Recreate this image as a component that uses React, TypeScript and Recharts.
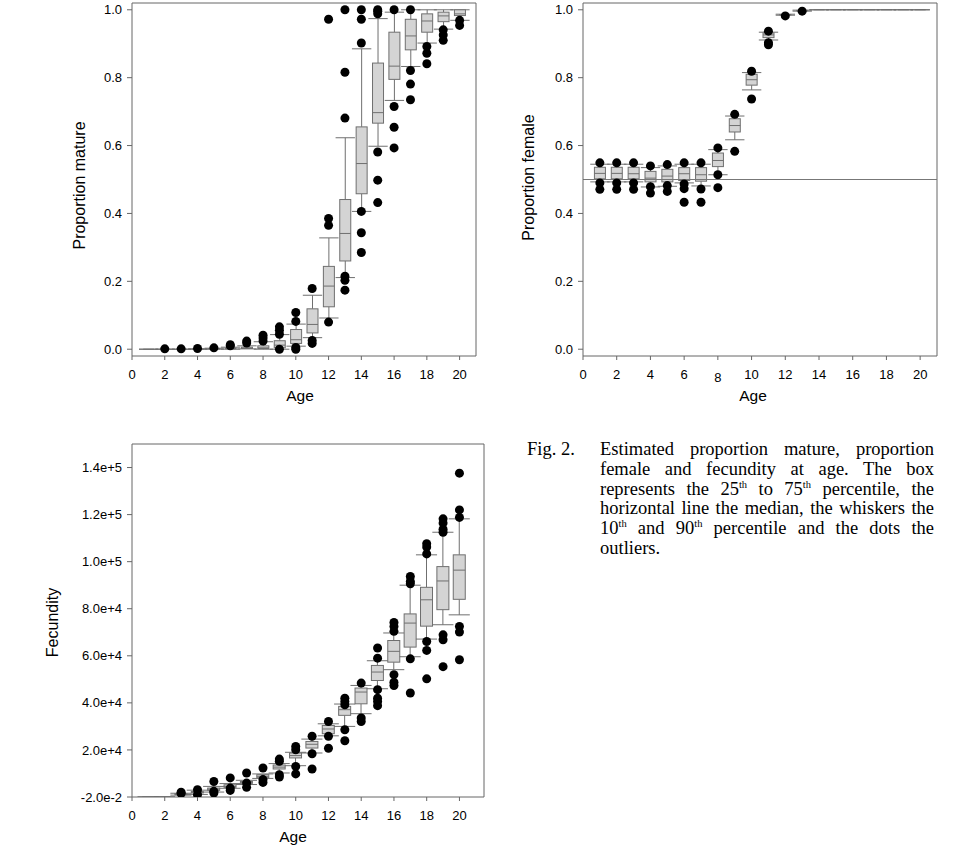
import React from 'react';
import { ComposedChart, Bar, Scatter, XAxis, YAxis, ReferenceLine } from 'recharts';

// ages 1..20 for every panel
const ages = [1, 2, 3, 4, 5, 6, 7, 8, 9, 10, 11, 12, 13, 14, 15, 16, 17, 18, 19, 20];
const ageTicks = [0, 2, 4, 6, 8, 10, 12, 14, 16, 18, 20];
const propTicks = [0, 0.2, 0.4, 0.6, 0.8, 1.0];
const fecTicks = [-0.02, 20000, 40000, 60000, 80000, 100000, 120000, 140000];

// proportion mature
const matureP10 = [0, 0, 0, 0, 0, 0, 0.001, 0.0, 0.0, 0.009, 0.034, 0.092, 0.211, 0.406, 0.598, 0.733, 0.833, 0.902, 0.943, 0.969];
const matureP25 = [0, 0, 0, 0, 0.001, 0.001, 0.002, 0.002, 0.004, 0.017, 0.048, 0.125, 0.26, 0.458, 0.666, 0.795, 0.882, 0.934, 0.965, 0.983];
const matureP50 = [0, 0, 0, 0, 0.001, 0.002, 0.003, 0.004, 0.012, 0.028, 0.073, 0.186, 0.341, 0.547, 0.697, 0.834, 0.923, 0.967, 0.982, 0.988];
const matureP75 = [0, 0, 0, 0.001, 0.002, 0.004, 0.006, 0.01, 0.025, 0.058, 0.119, 0.244, 0.441, 0.655, 0.843, 0.934, 0.972, 0.988, 0.993, 1.0];
const matureP90 = [0, 0, 0, 0.001, 0.003, 0.006, 0.01, 0.022, 0.043, 0.074, 0.159, 0.328, 0.623, 0.885, 0.974, 0.993, 1.0, 1.0, 1.0, 1.0];
const matureOutliers = [
  [], [0.001], [0.001], [0.002], [0.004], [0.01, 0.013], [0.018, 0.024], [0.024, 0.033, 0.041],
  [0.0, 0.044, 0.056, 0.066], [0.0, 0.005, 0.082, 0.108], [0.017, 0.026, 0.179],
  [0.08, 0.365, 0.385, 0.972], [0.174, 0.203, 0.215, 0.681, 0.816, 1.0],
  [0.285, 0.343, 0.406, 0.902, 0.972, 1.0], [0.432, 0.498, 0.581, 0.988, 0.996, 1.0],
  [0.593, 0.654, 0.715, 1.0], [0.735, 0.781, 0.821, 1.0], [0.841, 0.872, 0.892],
  [0.91, 0.926, 0.941], [0.954, 0.969],
];

// proportion female
const femaleP10 = [0.493, 0.493, 0.493, 0.478, 0.48, 0.49, 0.481, 0.514, 0.617, 0.764, 0.911, 0.984, 0.996, 1, 1, 1, 1, 1, 1, 1];
const femaleP25 = [0.502, 0.502, 0.502, 0.493, 0.493, 0.497, 0.495, 0.538, 0.64, 0.778, 0.918, 0.985, 0.997, 1, 1, 1, 1, 1, 1, 1];
const femaleP50 = [0.518, 0.518, 0.517, 0.504, 0.51, 0.517, 0.514, 0.556, 0.659, 0.794, 0.926, 0.986, 0.998, 1, 1, 1, 1, 1, 1, 1];
const femaleP75 = [0.536, 0.536, 0.536, 0.524, 0.53, 0.535, 0.535, 0.578, 0.679, 0.81, 0.932, 0.986, 0.998, 1, 1, 1, 1, 1, 1, 1];
const femaleP90 = [0.545, 0.545, 0.545, 0.535, 0.54, 0.545, 0.545, 0.588, 0.687, 0.815, 0.934, 0.987, 0.999, 1, 1, 1, 1, 1, 1, 1];
const femaleOutliers = [
  [0.471, 0.49, 0.549], [0.471, 0.49, 0.549], [0.471, 0.49, 0.549], [0.46, 0.479, 0.54],
  [0.465, 0.482, 0.544], [0.433, 0.473, 0.487, 0.549], [0.433, 0.472, 0.549], [0.476, 0.514, 0.593],
  [0.583, 0.692], [0.737, 0.819], [0.897, 0.903, 0.937], [0.982], [0.996],
  [], [], [], [], [], [], [],
];

// fecundity
const fecP10 = [0, 0, 800, 1100, 2100, 3700, 5300, 7900, 10200, 13300, 18700, 26000, 30000, 35400, 46000, 54100, 59600, 67100, 73200, 77400];
const fecP25 = [0, 0, 1000, 1700, 2800, 4100, 5800, 8200, 11900, 16600, 20800, 26900, 34700, 39600, 49500, 57300, 63700, 72600, 79600, 84000];
const fecP50 = [0, 0, 1200, 2000, 3300, 4500, 6100, 8800, 12700, 17600, 22400, 28900, 37100, 44600, 53100, 61900, 73900, 83800, 91800, 96400];
const fecP75 = [0, 0, 1400, 2300, 3800, 5200, 6600, 9500, 13600, 18700, 23600, 30400, 38500, 46300, 55900, 66500, 77800, 89100, 97900, 102900];
const fecP90 = [0, 0, 1600, 2900, 4500, 5700, 7100, 9800, 14200, 19000, 24600, 31100, 39500, 47400, 57900, 69700, 90000, 102900, 112500, 118200];
const fecOutliers = [
  [], [], [1500, 2000], [1000, 3100], [1700, 2400, 6600], [2800, 3800, 8100], [4100, 5900, 10200],
  [6200, 7400, 12300], [8500, 9500, 15200, 16100], [9800, 13000, 20100, 21500], [11900, 18400, 25800],
  [20700, 25800, 32100], [23900, 28600, 39200, 40600, 42000], [32100, 33600, 48400],
  [38800, 40600, 42000, 45600, 59000, 63300], [47400, 48800, 52000, 70400, 72500, 74200],
  [44200, 58700, 90600, 91600, 93700], [50200, 62300, 66100, 103300, 106200, 107600],
  [55400, 66800, 68900, 112500, 113800, 116400, 118200], [58300, 70100, 72500, 118800, 122000, 137600],
];

const AXIS = '#666';
const LINE = '#6f6f6f';
const BOX_FILL = '#d4d4d4';
const SANS = '"Liberation Sans", Arial, sans-serif';
const SERIF = '"Liberation Serif", "Times New Roman", serif';

const buildRows = (lo: number[], q1: number[], med: number[], q3: number[], hi: number[]) =>
  ages.map((age, i) => ({ age, lo: lo[i], q1: q1[i], med: med[i], q3: q3[i], hi: hi[i] }));

const buildDots = (outliers: number[][]) =>
  ages.flatMap((age, i) => outliers[i].map((value) => ({ age, value })));

// box + whiskers drawn inside the bar that spans 10th..90th percentile
const BoxShape = (props: any) => {
  const { x, y, width, height } = props;
  const d = props.payload ?? props;
  if (x == null || y == null) return null;
  const span = d.hi - d.lo;
  const py = (v: number) => (span > 0 ? y + (height * (d.hi - v)) / span : y);
  const cx = x + width / 2;
  const cap = width * 0.88;
  const yHi = py(d.hi);
  const yQ3 = py(d.q3);
  const yMed = py(d.med);
  const yQ1 = py(d.q1);
  const yLo = py(d.lo);
  return (
    <g>
      <line x1={cx} x2={cx} y1={yHi} y2={yQ3} stroke={LINE} />
      <line x1={cx} x2={cx} y1={yQ1} y2={yLo} stroke={LINE} />
      <line x1={cx - cap} x2={cx + cap} y1={yHi} y2={yHi} stroke={LINE} />
      <line x1={cx - cap} x2={cx + cap} y1={yLo} y2={yLo} stroke={LINE} />
      <rect x={x} y={yQ3} width={width} height={Math.max(yQ1 - yQ3, 0)} fill={BOX_FILL} stroke={LINE} />
      <line x1={x} x2={x + width} y1={yMed} y2={yMed} stroke={LINE} />
    </g>
  );
};

const Dot = (props: any) => {
  if (props.cx == null || props.cy == null) return null;
  return <circle cx={props.cx} cy={props.cy} r={4.5} fill="#000" />;
};

// the "8" on the female panel sits a little low in the original
const FemaleTick = (props: any) => {
  const { x, y, payload } = props;
  const shift = payload.value === 8 ? 3 : 0;
  return (
    <text x={x} y={y + shift} dy="0.71em" textAnchor="middle" fontSize={13} fill="#000">
      {payload.value}
    </text>
  );
};

interface PanelProps {
  rows: any[];
  dots: any[];
  xMax: number;
  yDomain: [number, number];
  yTicks: number[];
  yFormat: (v: number) => string;
  width: number;
  height: number;
  marginTop: number;
  xAxisHeight: number;
  barSize: number;
  left: number;
  top: number;
  refY?: number;
  xTick?: any;
}

function BoxPanel(p: PanelProps) {
  return (
    <div style={{ position: 'absolute', left: p.left, top: p.top }}>
      <ComposedChart
        width={p.width}
        height={p.height}
        data={p.rows}
        margin={{ top: p.marginTop, right: 14, bottom: 0, left: 0 }}
      >
        <XAxis
          dataKey="age"
          type="number"
          domain={[0, p.xMax]}
          ticks={ageTicks}
          interval={0}
          allowDataOverflow
          height={p.xAxisHeight}
          tickSize={4}
          tickMargin={10}
          stroke={AXIS}
          tick={p.xTick ?? { fill: '#000', fontSize: 13 }}
        />
        <YAxis
          type="number"
          domain={p.yDomain}
          ticks={p.yTicks}
          interval={0}
          allowDataOverflow
          width={132}
          tickSize={5}
          tickMargin={5}
          tickFormatter={p.yFormat}
          stroke={AXIS}
          tick={{ fill: '#000', fontSize: 13 }}
        />
        {/* frame: top and right edges */}
        <ReferenceLine y={p.yDomain[1]} stroke={AXIS} />
        <ReferenceLine x={p.xMax} stroke={AXIS} />
        {p.refY !== undefined && <ReferenceLine y={p.refY} stroke="#777" />}
        <Bar dataKey={(d: any) => [d.lo, d.hi]} barSize={p.barSize} shape={BoxShape} isAnimationActive={false} />
        <Scatter data={p.dots} dataKey="value" shape={Dot} isAnimationActive={false} />
      </ComposedChart>
    </div>
  );
}

const Th = () => <sup style={{ fontSize: 10.5, lineHeight: 0 }}>th</sup>;

const captionLine = (last: boolean): React.CSSProperties => ({
  textAlign: 'justify',
  textAlignLast: last ? 'left' : 'justify',
});

export default function App() {
  const fixed = (v: number) => v.toFixed(1);
  const expo = (v: number) => v.toExponential(1);
  const captionFont: React.CSSProperties = { fontFamily: SERIF, fontSize: 18.5, lineHeight: '19.8px', color: '#000' };
  return (
    <div style={{ position: 'absolute', left: 0, top: 0, width: 975, height: 860, background: '#fff', fontFamily: SANS }}>
      <BoxPanel
        rows={buildRows(matureP10, matureP25, matureP50, matureP75, matureP90)}
        dots={buildDots(matureOutliers)}
        xMax={21}
        yDomain={[-0.02, 1.02]}
        yTicks={propTicks}
        yFormat={fixed}
        width={490}
        height={410}
        marginTop={3}
        xAxisHeight={54}
        barSize={11}
        left={0}
        top={0}
      />
      <BoxPanel
        rows={buildRows(femaleP10, femaleP25, femaleP50, femaleP75, femaleP90)}
        dots={buildDots(femaleOutliers)}
        xMax={21}
        yDomain={[-0.02, 1.02]}
        yTicks={propTicks}
        yFormat={fixed}
        width={500}
        height={410}
        marginTop={3}
        xAxisHeight={54}
        barSize={11}
        left={451}
        top={0}
        refY={0.5}
        xTick={<FemaleTick />}
      />
      <BoxPanel
        rows={buildRows(fecP10, fecP25, fecP50, fecP75, fecP90)}
        dots={buildDots(fecOutliers)}
        xMax={21.5}
        yDomain={[-0.02, 150000]}
        yTicks={fecTicks}
        yFormat={expo}
        width={498}
        height={420}
        marginTop={14}
        xAxisHeight={53}
        barSize={12}
        left={0}
        top={430}
      />

      {/* axis titles */}
      <svg width={975} height={860} style={{ position: 'absolute', left: 0, top: 0, pointerEvents: 'none' }}>
        <text transform="translate(84.5,185.5) rotate(-90)" textAnchor="middle" fontSize={16} fill="#000">Proportion mature</text>
        <text x={300} y={401} textAnchor="middle" fontSize={15.5} fill="#000">Age</text>
        <text transform="translate(533.5,177.5) rotate(-90)" textAnchor="middle" fontSize={16} fill="#000">Proportion female</text>
        <text x={753} y={401} textAnchor="middle" fontSize={15.5} fill="#000">Age</text>
        <text transform="translate(58,622.5) rotate(-90)" textAnchor="middle" fontSize={16} fill="#000">Fecundity</text>
        <text x={293} y={842} textAnchor="middle" fontSize={15.5} fill="#000">Age</text>
      </svg>

      {/* caption */}
      <div style={{ position: 'absolute', left: 527, top: 440, ...captionFont }}>Fig. 2.</div>
      <div style={{ position: 'absolute', left: 600, top: 440, width: 334, ...captionFont }}>
        <div style={captionLine(false)}>Estimated proportion mature, proportion</div>
        <div style={captionLine(false)}>female and fecundity at age. The box</div>
        <div style={captionLine(false)}>represents the 25<Th /> to 75<Th /> percentile, the</div>
        <div style={captionLine(false)}>horizontal line the median, the whiskers the</div>
        <div style={captionLine(false)}>10<Th /> and 90<Th /> percentile and the dots the</div>
        <div style={captionLine(true)}>outliers.</div>
      </div>
    </div>
  );
}
